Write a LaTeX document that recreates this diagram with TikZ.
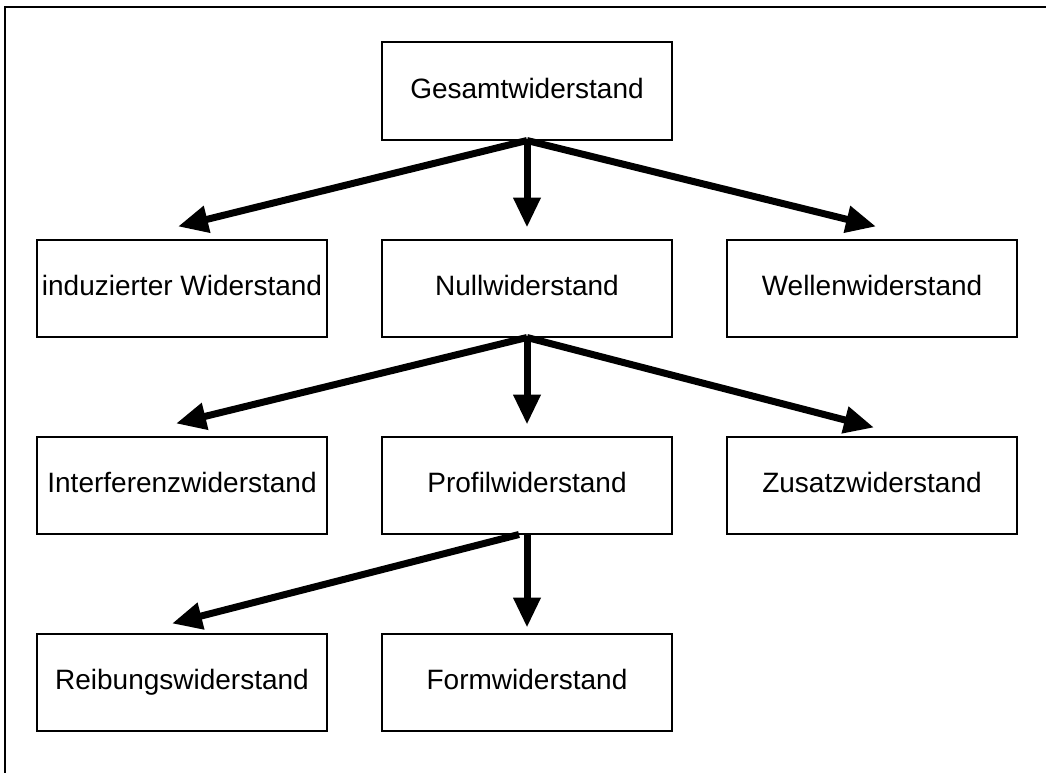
\documentclass[tikz,border=0pt]{standalone}
\usepackage{fontspec}
\setmainfont{Liberation Sans}
\usetikzlibrary{arrows.meta,positioning}

\begin{document}
\begin{tikzpicture}[x=1pt,y=-1pt,node distance=197pt and 345pt,on grid,
   box/.style={draw,line width=2pt,minimum width=290pt,minimum height=97pt,
     inner sep=0pt,text height=21pt,text depth=6pt,font=\fontsize{28}{32}\selectfont},
   pfeil/.style={line width=7pt,-{Triangle[length=30pt,width=26pt]}}]
   \useasboundingbox (0,0) rectangle (1046,773);
   \draw[line width=2pt] (5,773) -- (5,7) -- (1046,7);
   \node[box] (gesamt) at (527,91) {Gesamtwiderstand};
   \node[box] (null) [below=of gesamt] {Nullwiderstand};
   \node[box] (induziert) [left=of null] {induzierter Widerstand};
   \node[box] (wellen) [right=of null] {Wellenwiderstand};
   \node[box] (profil) [below=of null] {Profilwiderstand};
   \node[box] (interferenz) [left=of profil] {Interferenzwiderstand};
   \node[box] (zusatz) [right=of profil] {Zusatzwiderstand};
   \node[box] (form) [below=of profil] {Formwiderstand};
   \node[box] (reibung) [left=of form] {Reibungswiderstand};
    \path[pfeil]
    (gesamt.south) edge ([shift={(-4,-12)}]induziert.north)
                   edge ([shift={(0,-11)}]null.north)
                   edge ([shift={(4,-12)}]wellen.north)
    (null.south) edge ([shift={(-6,-12)}]interferenz.north)
                 edge ([shift={(0,-11)}]profil.north)
                 edge ([shift={(2,-8)}]zusatz.north)
    ([xshift=-8]profil.south) edge ([shift={(-10,-9)}]reibung.north)
    (profil.south) edge ([shift={(0,-5)}]form.north);
\end{tikzpicture}
\end{document}
